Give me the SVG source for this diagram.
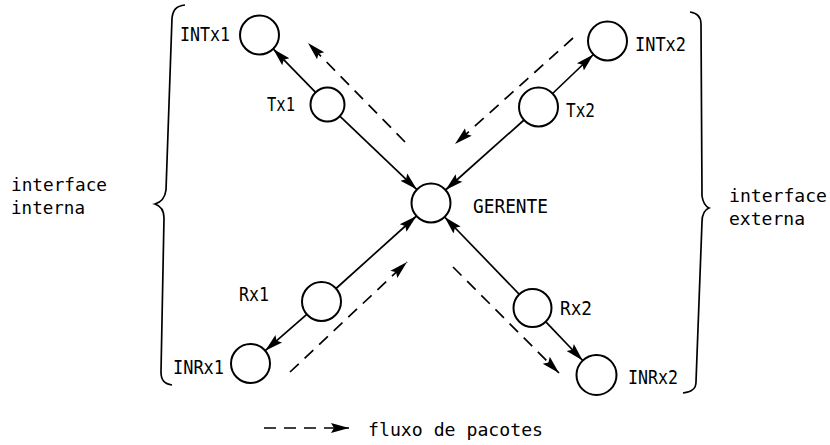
<svg xmlns="http://www.w3.org/2000/svg" width="830" height="445" viewBox="0 0 830 445">
  <style>
    .node { fill: #fff; stroke: #000; stroke-width: 2; }
    .lbl { font-family: "DejaVu Sans Mono", "Liberation Mono", monospace; font-size: 20px; fill: #000; }
    .txt { font-family: "DejaVu Sans Mono", "Liberation Mono", monospace; font-size: 18px; fill: #000; }
    .link { fill: none; stroke: #000; stroke-width: 1.7; marker-end: url(#head); }
    .flow { fill: none; stroke: #000; stroke-width: 1.7; stroke-dasharray: 12 8; marker-end: url(#head); }
    .brace { fill: none; stroke: #000; stroke-width: 1.7; }
  </style>
  <defs>
    <marker id="head" markerUnits="userSpaceOnUse" markerWidth="20" markerHeight="14" refX="18" refY="7" orient="auto">
      <path d="M0,2 L18,7 L0,12 L3,7 Z" fill="#000"/>
    </marker>
  </defs>
  <rect width="830" height="445" fill="#fff"/>

  <!-- braces grouping the two interfaces -->
  <path class="brace" d="M185,5 C176,6 173,10 172,18 L166,190 C165,198 162,202 155,204 C161,206 164,210 164,218 L161,372 C161,380 164,384 172,385"/>
  <path class="brace" d="M690,12 C697,13 701,16 701,24 L702,196 C703,203 705,206 709,208 C704,210 702,214 702,222 L696,382 C696,389 692,392 683,393"/>

  <!-- connectors -->
  <g id="connectors">
    <line class="link" x1="315.6" y1="92.3" x2="273.2" y2="48.9"/>
    <line class="link" x1="339.8" y1="116.2" x2="416.9" y2="189.6"/>
    <line class="link" x1="552.6" y1="93.5" x2="593.4" y2="54.5"/>
    <line class="link" x1="524" y1="120" x2="445.5" y2="190"/>
    <line class="link" x1="336" y1="288.5" x2="416.5" y2="216"/>
    <line class="link" x1="306.8" y1="314.3" x2="265.2" y2="350.7"/>
    <line class="link" x1="519.3" y1="294.3" x2="444.6" y2="217"/>
    <line class="link" x1="545.6" y1="321.7" x2="582.7" y2="360.5"/>
    <!-- packet flow -->
    <line class="flow" x1="405" y1="142" x2="308" y2="43"/>
    <line class="flow" x1="573" y1="38" x2="455" y2="144"/>
    <line class="flow" x1="290" y1="372" x2="407" y2="262"/>
    <line class="flow" x1="453" y1="267" x2="559" y2="373"/>
  </g>

  <g id="INTx1"><circle class="node" cx="259.5" cy="35" r="19.5"/><text class="lbl" x="180" y="41" textLength="50" lengthAdjust="spacingAndGlyphs">INTx1</text></g>
  <g id="Tx1"><circle class="node" cx="327.5" cy="104.5" r="17"/><text class="lbl" x="267" y="111" textLength="28" lengthAdjust="spacingAndGlyphs">Tx1</text></g>
  <g id="INTx2"><circle class="node" cx="607.5" cy="41" r="19.5"/><text class="lbl" x="635" y="51" textLength="51" lengthAdjust="spacingAndGlyphs">INTx2</text></g>
  <g id="Tx2"><circle class="node" cx="538.5" cy="107" r="19.5"/><text class="lbl" x="566" y="117" textLength="29" lengthAdjust="spacingAndGlyphs">Tx2</text></g>
  <g id="GERENTE"><circle class="node" cx="431" cy="203" r="19.5"/><text class="lbl" x="473" y="213" textLength="75" lengthAdjust="spacingAndGlyphs">GERENTE</text></g>
  <g id="Rx1"><circle class="node" cx="321.5" cy="301.5" r="19.5"/><text class="lbl" x="239" y="301" textLength="30" lengthAdjust="spacingAndGlyphs">Rx1</text></g>
  <g id="INRx1"><circle class="node" cx="250.5" cy="363.5" r="19.5"/><text class="lbl" x="173" y="374" textLength="51" lengthAdjust="spacingAndGlyphs">INRx1</text></g>
  <g id="Rx2"><circle class="node" cx="532.5" cy="308" r="19"/><text class="lbl" x="560" y="315" textLength="32" lengthAdjust="spacingAndGlyphs">Rx2</text></g>
  <g id="INRx2"><circle class="node" cx="596.5" cy="375" r="20"/><text class="lbl" x="628" y="384" textLength="50" lengthAdjust="spacingAndGlyphs">INRx2</text></g>

  <!-- side labels -->
  <text class="txt" x="11" y="191" textLength="96" lengthAdjust="spacingAndGlyphs">interface</text>
  <text class="txt" x="11" y="214" textLength="74" lengthAdjust="spacingAndGlyphs">interna</text>
  <text class="txt" x="729" y="202" textLength="98" lengthAdjust="spacingAndGlyphs">interface</text>
  <text class="txt" x="729" y="225" textLength="76" lengthAdjust="spacingAndGlyphs">externa</text>

  <!-- legend -->
  <line class="flow" x1="264" y1="428" x2="349" y2="428"/>
  <text class="txt" x="368" y="436" textLength="175" lengthAdjust="spacingAndGlyphs">fluxo de pacotes</text>
</svg>
